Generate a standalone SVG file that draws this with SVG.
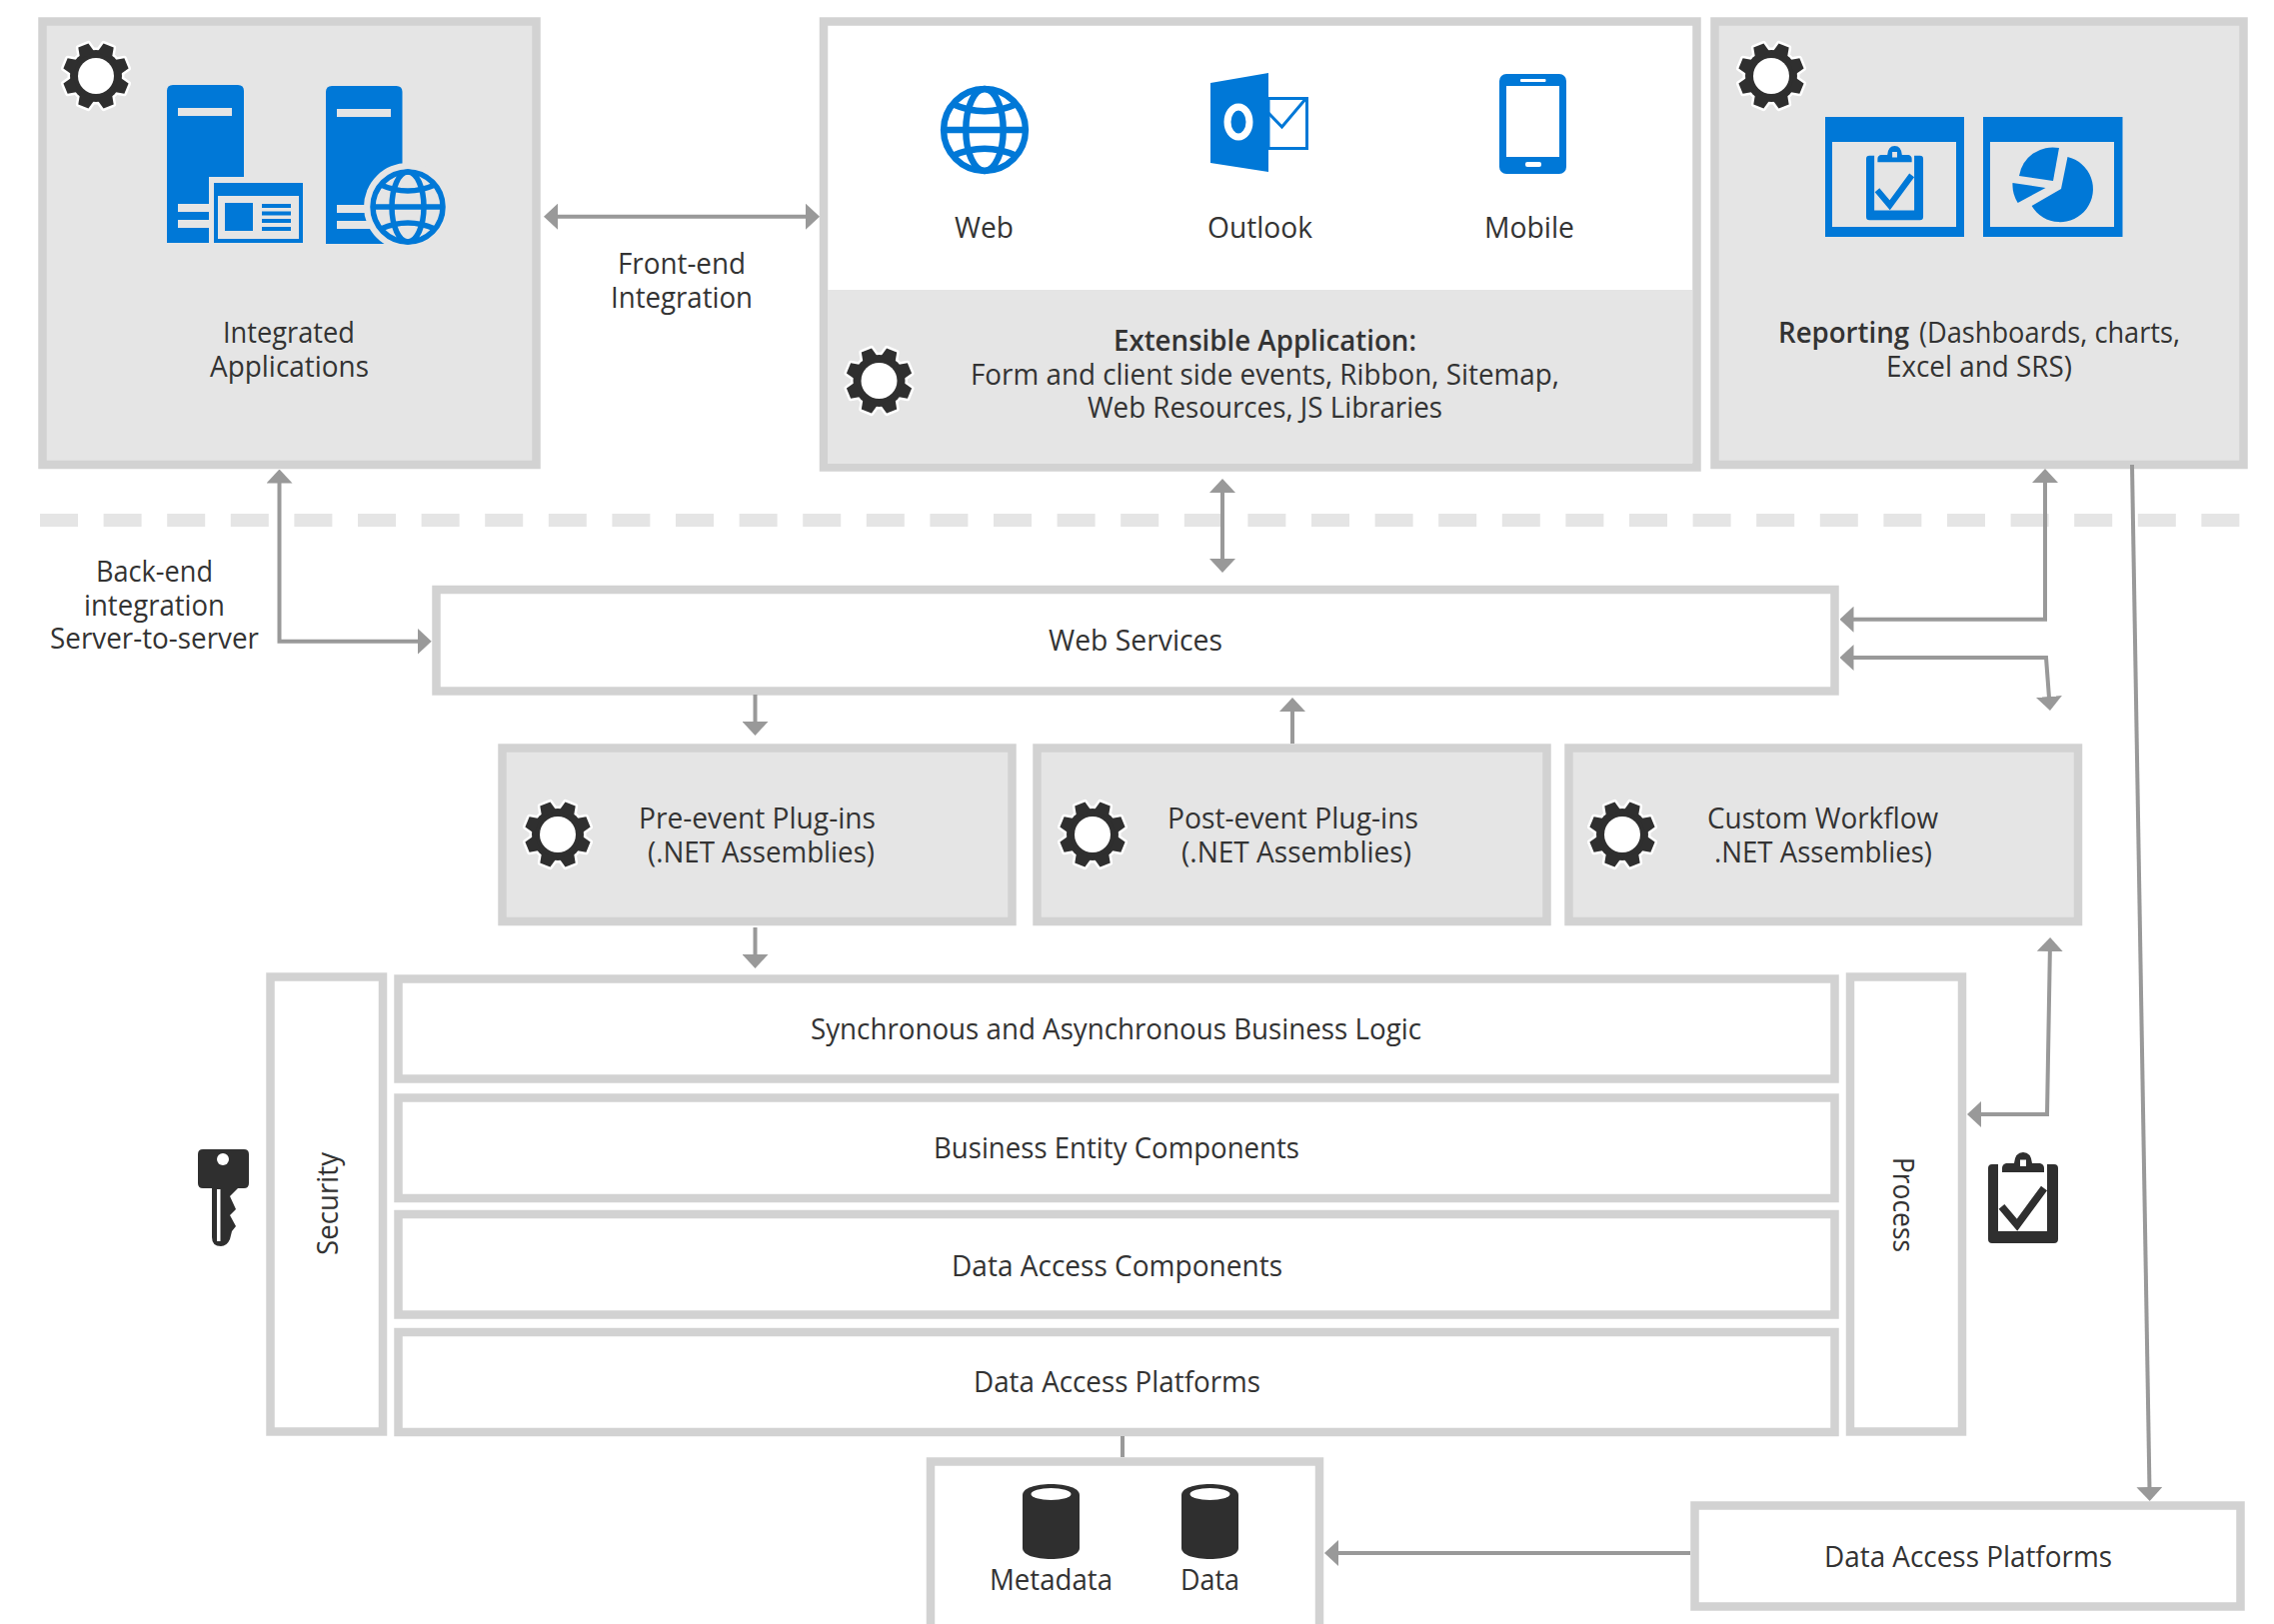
<svg xmlns="http://www.w3.org/2000/svg" width="2275" height="1625" viewBox="0 0 2275 1625">
<style>
.b{fill:#fff;stroke:#d2d2d2;stroke-width:8.5}
.g{fill:#e5e5e5;stroke:#d2d2d2;stroke-width:8.5}
.t{font-family:"Open Sans","Noto Sans","Liberation Sans",sans-serif;font-size:29px;font-weight:400;fill:#333}
.s{font-weight:600}
.bl{fill:#0078d7}
.bg{fill:#e5e5e5}
.d{fill:#2f2f2f}
.c{fill:none;stroke:#999;stroke-width:4}
.a{marker-end:url(#ah)}
.aa{marker-start:url(#ah);marker-end:url(#ah)}
.globe{fill:none;stroke:#0078d7;stroke-width:5.5}
</style>
<defs>
<marker id="ah" markerUnits="userSpaceOnUse" markerWidth="14" markerHeight="26" viewBox="0 0 14 26" refX="9" refY="13" orient="auto-start-reverse"><path d="M0 0L14 13L0 26Z" fill="#999"/></marker>
<g id="gs"><circle r="26"/><path d="M-8-22L-5.500-33H5.500L8-22Z" transform="rotate(22.500)"/><path d="M-8-22L-5.500-33H5.500L8-22Z" transform="rotate(67.500)"/><path d="M-8-22L-5.500-33H5.500L8-22Z" transform="rotate(112.500)"/><path d="M-8-22L-5.500-33H5.500L8-22Z" transform="rotate(157.500)"/><path d="M-8-22L-5.500-33H5.500L8-22Z" transform="rotate(202.500)"/><path d="M-8-22L-5.500-33H5.500L8-22Z" transform="rotate(247.500)"/><path d="M-8-22L-5.500-33H5.500L8-22Z" transform="rotate(292.500)"/><path d="M-8-22L-5.500-33H5.500L8-22Z" transform="rotate(337.500)"/></g>
<g id="gear"><use href="#gs" fill="#fff" stroke="#fff" stroke-width="5" stroke-linejoin="round"/><use href="#gs" fill="#2f2f2f"/><circle r="18" fill="#fff"/></g>
<g id="globe" class="globe"><circle r="35"/><ellipse rx="16" ry="35"/><path d="M-35 0H35M-27-22Q0-10 27-22M-27 22Q0 10 27 22"/></g>
<g id="clip"><path fill="currentColor" d="M4 12H10V79H59V12H66Q70 12 70 16V87Q70 91 66 91H4Q0 91 0 87V16Q0 12 4 12Z"/><path fill="currentColor" fill-rule="evenodd" d="M14 20V16Q14 12 18 11H26Q27 0 35 0Q43 0 44 11H52Q56 12 56 16V20ZM32 7.500V14H38V7.500Z"/><path fill="none" stroke="currentColor" stroke-width="7.500" d="M13.500 54.400L29 72.700L56 36"/></g>
<g id="cyl"><path class="d" d="M0 11C0 4 13 0 28.500 0S57 4 57 11V64C57 71 44 75 28.500 75S0 71 0 64Z"/><ellipse cx="28.500" cy="10" rx="20" ry="6" fill="#fff"/></g>
</defs>
<path id="divider" d="M40 520.500H2243" fill="none" stroke="#e5e5e5" stroke-width="13" stroke-dasharray="38 25.600"/>

<g id="integrated-applications">
<rect class="g" x="42.500" y="21.500" width="494" height="443.500"/>
<use href="#gear" x="96" y="76"/>
<path class="bl" d="M173 85H238Q244 85 244 91V177H209V243H167V91Q167 85 173 85Z"/>
<path class="bg" d="M178 108H232V116H178ZM178 204H209V212H178ZM178 220H209V228H178Z"/>
<rect class="bl" x="214" y="183" width="89" height="60"/>
<rect class="bg" x="218" y="196" width="81" height="43"/>
<rect class="bl" x="225" y="203" width="28" height="28"/>
<path class="bl" d="M262 204H291V208H262ZM262 211.500H291V215.500H262ZM262 219H291V223H262ZM262 227H291V231H262Z"/>
<path class="bl" d="M332 86H396.500Q402.500 86 402.500 92V244H326V92Q326 86 332 86Z"/>
<path class="bg" d="M337 109H391V117H337ZM337 205H370V213H337ZM337 221H370V229H337Z"/>
<circle class="bg" cx="408" cy="207" r="44"/>
<use href="#globe" transform="translate(408 207)"/>
<text class="t" x="223" y="343" textLength="132" lengthAdjust="spacingAndGlyphs">Integrated</text>
<text class="t" x="210" y="377" textLength="159" lengthAdjust="spacingAndGlyphs">Applications</text>
</g>

<g id="extensible-application">
<rect class="b" x="824" y="21.500" width="873.500" height="446"/>
<rect class="bg" x="828" y="290" width="865" height="174"/>
<use href="#globe" transform="translate(985 130) scale(1.17)"/>
<path class="bl" d="M1211 83L1269 73V172L1211 163Z"/>
<ellipse cx="1239" cy="122" rx="11" ry="15" fill="none" stroke="#fff" stroke-width="7"/>
<rect x="1269" y="98.500" width="38.500" height="50" fill="#fff" stroke="#0078d7" stroke-width="3"/>
<path d="M1269 113L1282.500 127L1307 98" fill="none" stroke="#0078d7" stroke-width="3"/>
<rect class="bl" x="1500" y="74" width="67" height="100" rx="7"/>
<rect x="1507" y="86" width="53" height="71" fill="#fff"/>
<rect x="1521" y="79" width="25.500" height="3" fill="#fff" rx="1"/>
<rect x="1526" y="162" width="16" height="5" fill="#fff" rx="2"/>
<text class="t" x="955" y="238" textLength="59" lengthAdjust="spacingAndGlyphs">Web</text>
<text class="t" x="1208" y="238" textLength="105" lengthAdjust="spacingAndGlyphs">Outlook</text>
<text class="t" x="1485" y="238" textLength="90" lengthAdjust="spacingAndGlyphs">Mobile</text>
<use href="#gear" x="879.500" y="381"/>
<text class="t s" x="1114" y="351" textLength="303" lengthAdjust="spacingAndGlyphs">Extensible Application:</text>
<text class="t" x="971" y="385" textLength="589" lengthAdjust="spacingAndGlyphs">Form and client side events, Ribbon, Sitemap,</text>
<text class="t" x="1088" y="418" textLength="355" lengthAdjust="spacingAndGlyphs">Web Resources, JS Libraries</text>
</g>

<g id="reporting">
<rect class="g" x="1715.500" y="21.500" width="529" height="443.500"/>
<use href="#gear" x="1772" y="76"/>
<rect class="bl" x="1826" y="117" width="139" height="120"/>
<rect class="bg" x="1833" y="142" width="124" height="85"/>
<use href="#clip" transform="translate(1867 146) scale(.815)" style="color:#0078d7"/>
<rect class="bl" x="1984" y="117" width="139.500" height="120"/>
<rect class="bg" x="1991" y="142" width="124" height="85"/>
<path class="bl" d="M2068.500 157A33 33 0 1 1 2032.600 206L2062 189Z"/>
<path class="bl" d="M2060 148L2054 181L2020 176A34 34 0 0 1 2060 148Z"/>
<path class="bl" d="M2013.500 183L2046.500 188L2018.700 203A34 34 0 0 1 2013.500 183Z"/>
<text class="t" y="343"><tspan class="s" x="1779" textLength="131" lengthAdjust="spacingAndGlyphs">Reporting</tspan><tspan x="1920" textLength="261" lengthAdjust="spacingAndGlyphs">(Dashboards, charts,</tspan></text>
<text class="t" x="1887" y="377" textLength="186" lengthAdjust="spacingAndGlyphs">Excel and SRS)</text>
</g>

<g id="web-services">
<rect class="b" x="436.500" y="590" width="1399" height="101.500"/>
<text class="t" x="1049" y="651" textLength="174" lengthAdjust="spacingAndGlyphs">Web Services</text>
</g>

<g id="pre-event">
<rect class="g" x="502.500" y="748.500" width="510" height="173.500"/>
<use href="#gear" x="558" y="835"/>
<text class="t" x="639" y="829" textLength="237" lengthAdjust="spacingAndGlyphs">Pre-event Plug-ins</text>
<text class="t" x="648" y="863" textLength="227" lengthAdjust="spacingAndGlyphs">(.NET Assemblies)</text>
</g>
<g id="post-event">
<rect class="g" x="1037.500" y="748.500" width="510" height="173.500"/>
<use href="#gear" x="1093" y="835"/>
<text class="t" x="1168" y="829" textLength="251" lengthAdjust="spacingAndGlyphs">Post-event Plug-ins</text>
<text class="t" x="1182" y="863" textLength="230" lengthAdjust="spacingAndGlyphs">(.NET Assemblies)</text>
</g>
<g id="custom-workflow">
<rect class="g" x="1569.500" y="748.500" width="509.500" height="173.500"/>
<use href="#gear" x="1623" y="835"/>
<text class="t" x="1708" y="829" textLength="231" lengthAdjust="spacingAndGlyphs">Custom Workflow</text>
<text class="t" x="1715" y="863" textLength="218" lengthAdjust="spacingAndGlyphs">.NET Assemblies)</text>
</g>

<g id="security">
<rect class="b" x="270.500" y="977.500" width="112.500" height="455"/>
<text class="t" transform="translate(338 1256) rotate(-90)" textLength="103" lengthAdjust="spacingAndGlyphs">Security</text>
<path class="d" d="M203 1150H244Q249 1150 249 1155V1184Q249 1189 244 1189H238L230 1197L236 1210L230 1216L236 1227L232 1232L230 1240Q227 1247 221 1247Q212 1247 212 1238V1189H203Q198 1189 198 1184V1155Q198 1150 203 1150Z"/>
<circle cx="223" cy="1160" r="6" fill="#fff"/>
<rect x="217" y="1190" width="3.500" height="52" fill="#fff"/>
</g>

<g id="business-logic">
<rect class="b" x="398.500" y="979.500" width="1437" height="100"/>
<text class="t" x="811" y="1040" textLength="611" lengthAdjust="spacingAndGlyphs">Synchronous and Asynchronous Business Logic</text>
</g>
<g id="business-entity">
<rect class="b" x="398.500" y="1098.500" width="1437" height="100.500"/>
<text class="t" x="934" y="1159" textLength="366" lengthAdjust="spacingAndGlyphs">Business Entity Components</text>
</g>
<g id="data-access-components">
<rect class="b" x="398.500" y="1215" width="1437" height="100.500"/>
<text class="t" x="952" y="1277" textLength="331" lengthAdjust="spacingAndGlyphs">Data Access Components</text>
</g>
<g id="data-access-platforms">
<rect class="b" x="398.500" y="1333" width="1437" height="100"/>
<text class="t" x="974" y="1393" textLength="287" lengthAdjust="spacingAndGlyphs">Data Access Platforms</text>
</g>

<g id="process">
<rect class="b" x="1851" y="977.500" width="112" height="455"/>
<text class="t" transform="translate(1894 1158) rotate(90)" textLength="95" lengthAdjust="spacingAndGlyphs">Process</text>
<use href="#clip" x="1989" y="1153" style="color:#2f2f2f"/>
</g>

<g id="store">
<rect class="b" x="931" y="1462.500" width="389" height="180"/>
<use href="#cyl" x="1023" y="1485"/>
<use href="#cyl" x="1182" y="1485"/>
<text class="t" x="990" y="1591" textLength="123" lengthAdjust="spacingAndGlyphs">Metadata</text>
<text class="t" x="1181" y="1591" textLength="59" lengthAdjust="spacingAndGlyphs">Data</text>
</g>

<g id="external-data-access">
<rect class="b" x="1695.500" y="1506.500" width="546" height="101"/>
<text class="t" x="1825" y="1568" textLength="288" lengthAdjust="spacingAndGlyphs">Data Access Platforms</text>
</g>

<g id="labels">
<text class="t" x="618" y="274" textLength="128" lengthAdjust="spacingAndGlyphs">Front-end</text>
<text class="t" x="611" y="308" textLength="142" lengthAdjust="spacingAndGlyphs">Integration</text>
<text class="t" x="96" y="582" textLength="117" lengthAdjust="spacingAndGlyphs">Back-end</text>
<text class="t" x="84" y="616" textLength="141" lengthAdjust="spacingAndGlyphs">integration</text>
<text class="t" x="50" y="649" textLength="209" lengthAdjust="spacingAndGlyphs">Server-to-server</text>
</g>

<g id="connectors">
<path class="c aa" d="M549 216.700H815"/>
<path class="c aa" d="M279.500 474.500V641.700H426.700"/>
<path class="c aa" d="M1223 484V568"/>
<path class="c aa" d="M1845.500 619.700H2046V474"/>
<path class="c aa" d="M1845.500 658H2047L2050.600 706"/>
<path class="c a" d="M755.500 695V731"/>
<path class="c a" d="M755.500 928V964"/>
<path class="c a" d="M1293 744V703"/>
<path class="c aa" d="M2051 943L2048 1115H1973"/>
<path class="c" d="M1123 1437V1458"/>
<path class="c a" d="M1691 1554H1330"/>
<path class="c a" d="M2133 465L2150.600 1497"/>
</g>
</svg>
